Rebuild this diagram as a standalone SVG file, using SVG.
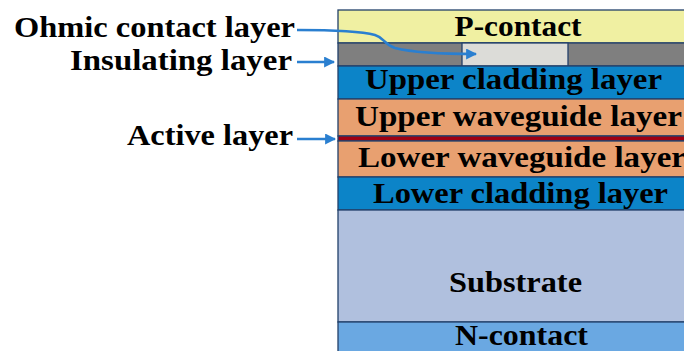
<svg xmlns="http://www.w3.org/2000/svg" width="684" height="351" viewBox="0 0 684 351">
<style>
.layer{stroke:#22406a;stroke-width:1.3}
.t{font-family:"Liberation Serif","Times New Roman",serif;font-weight:bold;font-size:29px;fill:#000}
.c{text-anchor:middle}
.e{text-anchor:end}
.arr{fill:none;stroke:#2a7fd0;stroke-width:2.5}
</style>
<defs>
<marker id="ah" viewBox="0 0 10 10" refX="9" refY="5" markerWidth="4.4" markerHeight="4.4" orient="auto" markerUnits="strokeWidth">
<path d="M0,0 L10,5 L0,10 z" fill="#2a7fd0"/>
</marker>
</defs>
<rect width="684" height="351" fill="#fff"/>
<g id="p-contact"><rect class="layer" x="338" y="10" width="360" height="33" fill="#f0f0a2"/><text class="t c" x="518" y="36" textLength="127" lengthAdjust="spacingAndGlyphs">P-contact</text></g>
<g id="insulating"><rect class="layer" x="338" y="43" width="360" height="23" fill="#7f7f7f"/></g>
<g id="ohmic"><rect class="layer" x="462" y="43" width="106" height="23" fill="#dcdcd8"/></g>
<g id="upper-cladding"><rect class="layer" x="338" y="66" width="360" height="33" fill="#0c84c8"/><text class="t c" x="513.5" y="89" textLength="297" lengthAdjust="spacingAndGlyphs">Upper cladding layer</text></g>
<g id="upper-waveguide"><rect class="layer" x="338" y="99" width="360" height="37" fill="#e8a070"/><text class="t c" x="518.5" y="126" textLength="327" lengthAdjust="spacingAndGlyphs">Upper waveguide layer</text></g>
<g id="active"><rect class="layer" x="338" y="136" width="360" height="5" fill="#a00012"/></g>
<g id="lower-waveguide"><rect class="layer" x="338" y="141" width="360" height="36" fill="#e8a070"/><text class="t c" x="522" y="167" textLength="328" lengthAdjust="spacingAndGlyphs">Lower waveguide layer</text></g>
<g id="lower-cladding"><rect class="layer" x="338" y="177" width="360" height="33" fill="#0c84c8"/><text class="t c" x="520.5" y="203" textLength="295" lengthAdjust="spacingAndGlyphs">Lower cladding layer</text></g>
<g id="substrate"><rect class="layer" x="338" y="210" width="360" height="112" fill="#b0c0de"/><text class="t c" x="515.5" y="292" textLength="133" lengthAdjust="spacingAndGlyphs">Substrate</text></g>
<g id="n-contact"><rect class="layer" x="338" y="322" width="360" height="40" fill="#6aa8e2"/><text class="t c" x="521.5" y="345" textLength="133" lengthAdjust="spacingAndGlyphs">N-contact</text></g>
<g id="label-ohmic"><text class="t e" x="295" y="37" textLength="281" lengthAdjust="spacingAndGlyphs">Ohmic contact layer</text></g>
<g id="label-insulating"><text class="t e" x="292" y="70" textLength="222" lengthAdjust="spacingAndGlyphs">Insulating layer</text></g>
<g id="label-active"><text class="t e" x="293" y="145" textLength="166" lengthAdjust="spacingAndGlyphs">Active layer</text></g>
<g id="connectors">
<path class="arr" d="M297,30 C330,30 360,31 375,35 C385,38 383,44 395,48 C415,53 450,54 476,54" marker-end="url(#ah)"/>
<path class="arr" d="M297,62 L334,62" marker-end="url(#ah)"/>
<path class="arr" d="M297,139 L335,139" marker-end="url(#ah)"/>
</g>
</svg>
